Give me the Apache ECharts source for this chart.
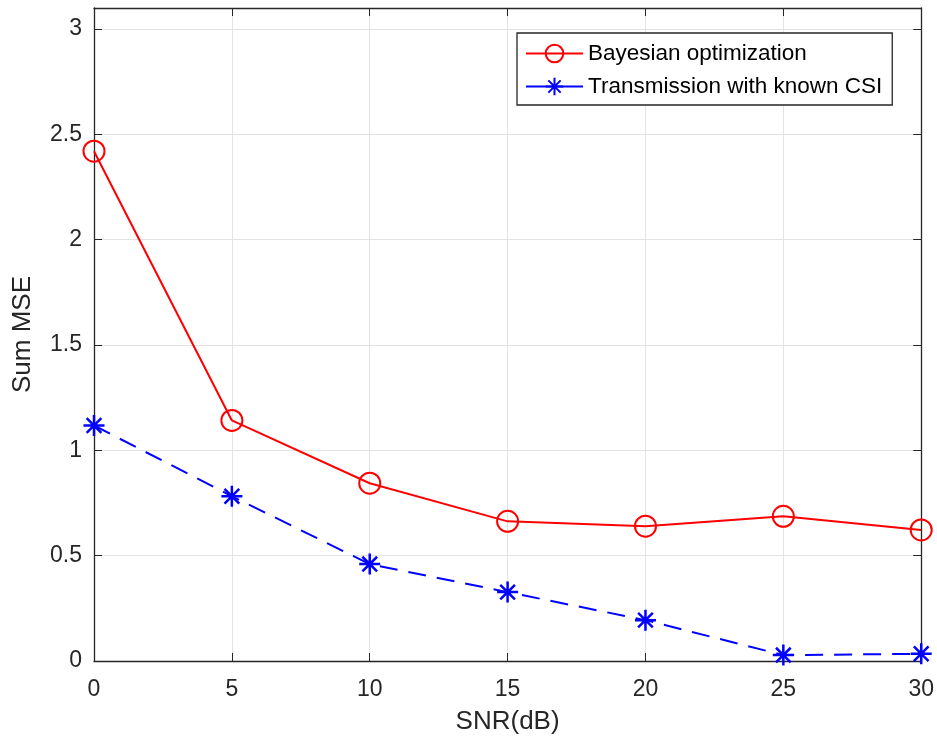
<!DOCTYPE html>
<html>
<head>
<meta charset="utf-8">
<script src="https://cdn.jsdelivr.net/npm/echarts@6/dist/echarts.min.js"></script>
<style>html,body{margin:0;padding:0;background:#fff}#c{width:937px;height:740px}</style>
</head>
<body>
<div id="c"></div>
<script>
const snr = [0, 5, 10, 15, 20, 25, 30];
const bayesian = [2.42, 1.142, 0.844, 0.663, 0.64, 0.687, 0.622];
const knownCSI = [1.118, 0.782, 0.46, 0.327, 0.194, 0.028, 0.034];
const seriesNames = ['Bayesian optimization', 'Transmission with known CSI'];

const chart = echarts.init(document.getElementById('c'), null, {renderer: 'canvas'});
const font = 'Liberation Sans, Arial, sans-serif';
const axisCol = '#262626';
const star = 'path://M0,-10L0,10M-10,0L10,0M-7,-7L7,7M-7,7L7,-7';
chart.setOption({
  animation: false,
  backgroundColor: '#fff',
  grid: {left: 94, right: 15, top: 8, bottom: 78, containLabel: false},
  legend: {
    left: 517, top: 33, orient: 'vertical',
    backgroundColor: '#fff', borderColor: axisCol, borderWidth: 1.3,
    padding: [9, 10, 7, 8], itemWidth: 57, itemHeight: 22, itemGap: 10,
    textStyle: {fontFamily: font, fontSize: 22.5, color: '#000'},
    data: [
      {name: seriesNames[0]},
      {name: seriesNames[1], lineStyle: {type: 'solid'}}
    ]
  },
  xAxis: [{
    type: 'value', min: 0, max: 30, interval: 5,
    name: 'SNR(dB)', nameLocation: 'middle', nameGap: 48,
    nameTextStyle: {fontFamily: font, fontSize: 26, color: axisCol},
    axisLine: {onZero: false, lineStyle: {color: axisCol, width: 1.3}},
    axisTick: {inside: true, length: 8, lineStyle: {color: axisCol}},
    axisLabel: {fontFamily: font, fontSize: 23, color: axisCol, margin: 17},
    splitLine: {show: true, lineStyle: {color: '#e3e3e3', width: 1}}
  }, {
    type: 'value', min: 0, max: 30, interval: 5, position: 'top',
    axisLine: {onZero: false, lineStyle: {color: axisCol, width: 1.3}},
    axisTick: {inside: true, length: 8, lineStyle: {color: axisCol}},
    axisLabel: {show: false}, splitLine: {show: false}
  }],
  yAxis: [{
    type: 'value', min: 0, max: 3.1, interval: 0.5,
    name: 'Sum MSE', nameLocation: 'middle', nameGap: 58,
    nameTextStyle: {fontFamily: font, fontSize: 26, color: axisCol},
    axisLine: {show: true, onZero: false, lineStyle: {color: axisCol, width: 1.3}},
    axisTick: {show: true, inside: true, length: 8, lineStyle: {color: axisCol}},
    axisLabel: {fontFamily: font, fontSize: 23, color: axisCol, margin: 12, showMaxLabel: false},
    splitLine: {show: true, lineStyle: {color: '#e3e3e3', width: 1}}
  }, {
    type: 'value', min: 0, max: 3.1, interval: 0.5, position: 'right',
    axisLine: {show: true, onZero: false, lineStyle: {color: axisCol, width: 1.3}},
    axisTick: {show: true, inside: true, length: 8, lineStyle: {color: axisCol}},
    axisLabel: {show: false}, splitLine: {show: false}
  }],
  series: [{
    name: seriesNames[0], type: 'line',
    data: snr.map((x, i) => [x, bayesian[i]]),
    symbol: 'circle', symbolSize: 21,
    lineStyle: {color: '#ff0000', width: 2},
    itemStyle: {color: 'rgba(0,0,0,0)', borderColor: '#ff0000', borderWidth: 2},
    z: 3
  }, {
    name: seriesNames[1], type: 'line',
    data: snr.map((x, i) => [x, knownCSI[i]]),
    symbol: star, symbolSize: 21, symbolKeepAspect: true,
    lineStyle: {color: '#0000ff', width: 2, type: [18, 11]},
    itemStyle: {color: '#0000ff', borderColor: '#0000ff', borderWidth: 2.5},
    z: 2
  }]
});
</script>
</body>
</html>
